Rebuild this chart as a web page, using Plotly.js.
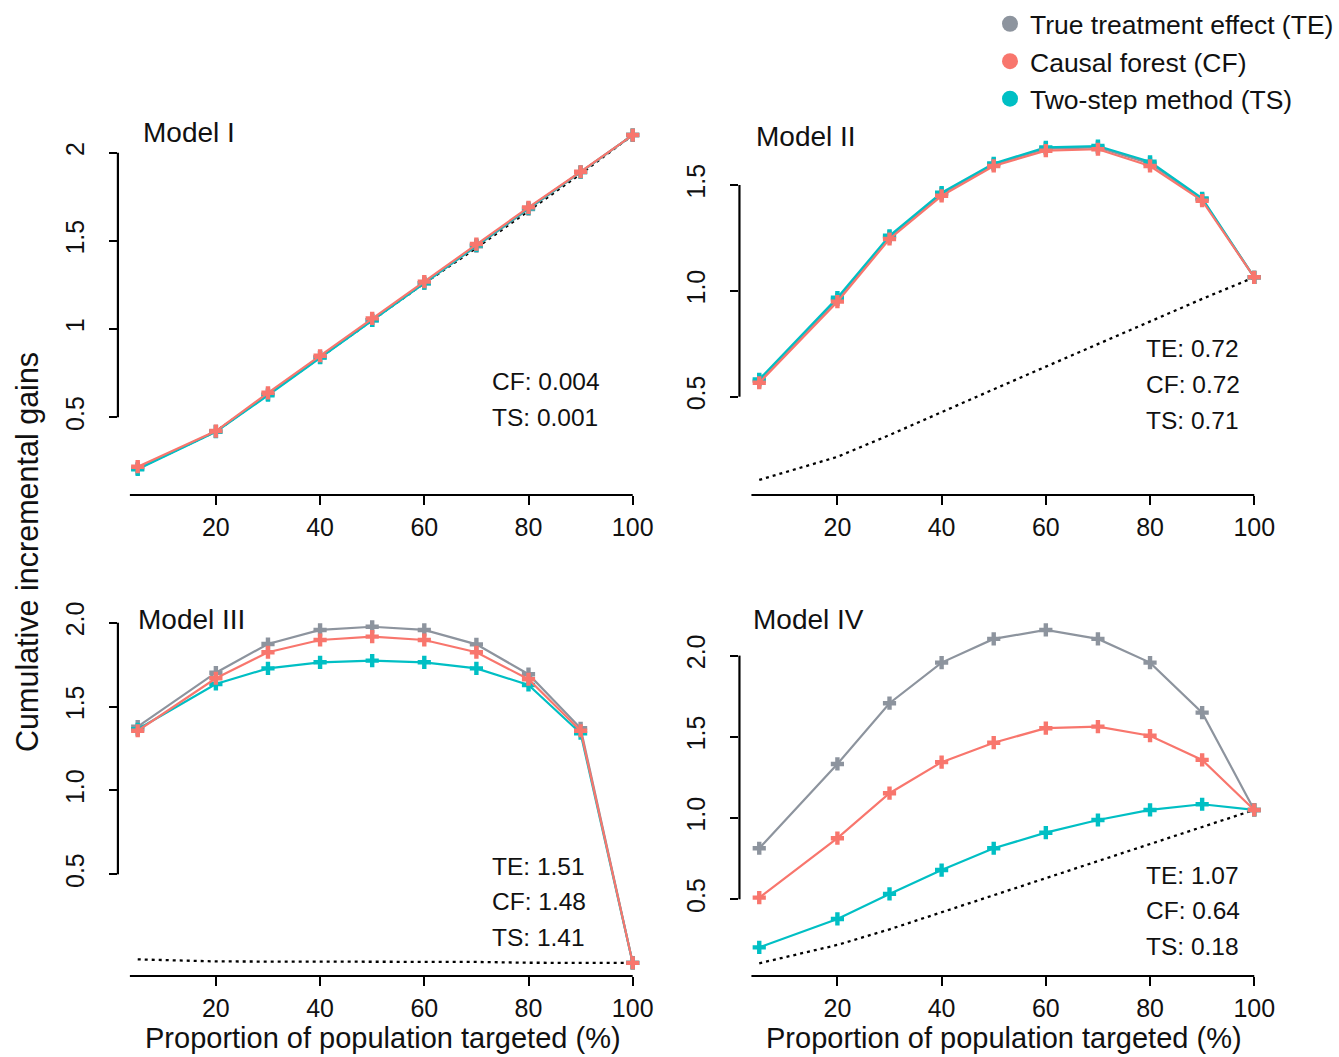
<!DOCTYPE html>
<html>
<head>
<meta charset="utf-8">
<script src="https://cdn.plot.ly/plotly-3.0.1.min.js"></script>
<style>html,body{margin:0;padding:0;background:#fff;}#chart{width:1339px;height:1057px;}</style>
</head>
<body>
<div id="chart"></div>
<script>
// ---------------- data ----------------
const pct = [5, 20, 30, 40, 50, 60, 70, 80, 90, 100];
const xTicks = [20, 40, 60, 80, 100];
const seriesNames = ['True treatment effect (TE)', 'Causal forest (CF)', 'Two-step method (TS)'];
const panelTitles = ['Model I', 'Model II', 'Model III', 'Model IV'];

const m1_te = [0.21, 0.42, 0.63, 0.84, 1.05, 1.26, 1.47, 1.68, 1.89, 2.10];
const m1_cf = [0.22, 0.422, 0.639, 0.849, 1.061, 1.269, 1.482, 1.69, 1.892, 2.10];
const m1_ts = [0.205, 0.418, 0.625, 0.838, 1.05, 1.26, 1.475, 1.685, 1.89, 2.10];
const m1_base = [0.21, 0.42, 0.63, 0.84, 1.05, 1.26, 1.46, 1.67, 1.88, 2.10];

const m2_te = [0.575, 0.96, 1.255, 1.458, 1.597, 1.672, 1.678, 1.602, 1.432, 1.064];
const m2_cf = [0.566, 0.949, 1.245, 1.449, 1.590, 1.662, 1.669, 1.590, 1.426, 1.064];
const m2_ts = [0.582, 0.968, 1.26, 1.464, 1.602, 1.678, 1.684, 1.61, 1.437, 1.064];
const m2_base = [0.107, 0.216, 0.319, 0.428, 0.535, 0.642, 0.749, 0.856, 0.962, 1.064];

const m3_te = [1.38, 1.702, 1.873, 1.957, 1.976, 1.957, 1.871, 1.693, 1.371, -0.028];
const m3_cf = [1.356, 1.669, 1.824, 1.897, 1.917, 1.897, 1.824, 1.663, 1.356, -0.028];
const m3_ts = [1.365, 1.635, 1.728, 1.764, 1.774, 1.764, 1.728, 1.629, 1.341, -0.028];
const m3_base = [-0.007, -0.019, -0.02, -0.02, -0.02, -0.021, -0.022, -0.027, -0.028, -0.028];

const m4_te = [0.814, 1.333, 1.707, 1.957, 2.103, 2.158, 2.103, 1.957, 1.649, 1.05];
const m4_cf = [0.51, 0.876, 1.153, 1.344, 1.464, 1.553, 1.563, 1.507, 1.358, 1.05];
const m4_ts = [0.204, 0.379, 0.533, 0.68, 0.814, 0.91, 0.988, 1.05, 1.085, 1.05];
const m4_base = [0.106, 0.219, 0.315, 0.42, 0.525, 0.632, 0.735, 0.84, 0.945, 1.05];

const statLines = [
  ['CF: 0.004', 'TS: 0.001'],
  ['TE: 0.72', 'CF: 0.72', 'TS: 0.71'],
  ['TE: 1.51', 'CF: 1.48', 'TS: 1.41'],
  ['TE: 1.07', 'CF: 0.64', 'TS: 0.18']
];
const yTickVals = [[0.5, 1, 1.5, 2], [0.5, 1.0, 1.5], [0.5, 1.0, 1.5, 2.0], [0.5, 1.0, 1.5, 2.0]];
const yTickText = [['0.5', '1', '1.5', '2'], ['0.5', '1.0', '1.5'], ['0.5', '1.0', '1.5', '2.0'], ['0.5', '1.0', '1.5', '2.0']];
const xTitle = 'Proportion of population targeted (%)';
const yTitle = 'Cumulative incremental gains';

// ---------------- styling / layout ----------------
const W = 1339, H = 1057;
const FONT = 'Liberation Sans, Arial, Helvetica, sans-serif';
const COLORS = ['#8D949E', '#F8766D', '#00BFC4'];
const px = v => v / W;
const py = v => 1 - v / H;

const panels = [
  {te: m1_te, cf: m1_cf, ts: m1_ts, base: m1_base, xd: [118, 653], yd: [134, 495], yr: [0.0595, 2.106], title: [141, 133], stats: [490, 382]},
  {te: m2_te, cf: m2_cf, ts: m2_ts, base: m2_base, xd: [740, 1275], yd: [134, 495], yr: [0.0357, 1.741], title: [755, 137], stats: [1145, 349]},
  {te: m3_te, cf: m3_cf, ts: m3_ts, base: m3_base, xd: [118, 653], yd: [615, 976], yr: [-0.106, 2.046], title: [136, 619], stats: [490, 866]},
  {te: m4_te, cf: m4_cf, ts: m4_ts, base: m4_base, xd: [740, 1275], yd: [615, 976], yr: [0.0277, 2.25], title: [752, 619], stats: [1145, 875]}
];

const traces = [];
const layout = {
  width: W, height: H,
  margin: {l: 0, r: 0, t: 0, b: 0},
  paper_bgcolor: '#fff', plot_bgcolor: 'rgba(0,0,0,0)',
  font: {family: FONT, color: '#000', size: 25},
  showlegend: true,
  legend: {x: px(991), y: py(0), xanchor: 'left', yanchor: 'top', font: {size: 26.5, family: FONT, color: '#111'},
           bgcolor: 'rgba(0,0,0,0)', tracegroupgap: 0, itemwidth: 30},
  annotations: [], shapes: []
};

panels.forEach((p, i) => {
  const n = i + 1;
  const xa = 'x' + (n === 1 ? '' : n), ya = 'y' + (n === 1 ? '' : n);
  const xk = 'xaxis' + (n === 1 ? '' : n), yk = 'yaxis' + (n === 1 ? '' : n);
  traces.push({x: pct, y: p.base, xaxis: xa, yaxis: ya, mode: 'lines', showlegend: false, hoverinfo: 'skip',
               line: {color: '#000', width: 2.3, dash: '3px,4px'}});
  [[p.te, 0], [p.ts, 2], [p.cf, 1]].forEach(([vals, c]) => {
    traces.push({x: pct, y: vals, xaxis: xa, yaxis: ya, mode: 'lines+markers', showlegend: false, cliponaxis: false,
                 line: {color: COLORS[c], width: 2.2}, marker: {color: COLORS[c], symbol: 'cross', size: 11, line: {width: 0}}});
  });
  layout[xk] = {domain: [px(p.xd[0]), px(p.xd[1])], range: [1.2, 103.8], anchor: ya,
    showgrid: false, zeroline: false, showline: false, ticks: 'outside', ticklen: 9, tickwidth: 2, tickcolor: '#000',
    tickvals: xTicks, ticktext: xTicks.map(String), tickfont: {size: 25, family: FONT, color: '#111'}, ticklabelstandoff: 1};
  layout[yk] = {domain: [py(p.yd[1]), py(p.yd[0])], range: p.yr, anchor: xa,
    showgrid: false, zeroline: false, showline: false, ticks: 'outside', ticklen: 8, tickwidth: 2, tickcolor: '#000',
    tickvals: yTickVals[i], ticktext: yTickText[i], tickangle: -90, tickfont: {size: 25, family: FONT, color: '#111'}, ticklabelstandoff: 15};
  // R-style axis lines spanning first to last tick
  layout.shapes.push({type: 'line', xref: xa, yref: ya + ' domain', x0: 3.5, x1: xTicks[xTicks.length - 1], y0: 0, y1: 0,
                      line: {color: '#000', width: 2.2}});
  const yt = yTickVals[i];
  layout.shapes.push({type: 'line', xref: xa + ' domain', yref: ya, x0: 0, x1: 0, y0: yt[0], y1: yt[yt.length - 1],
                      line: {color: '#000', width: 2.2}});
  layout.annotations.push({text: panelTitles[i], xref: 'paper', yref: 'paper', x: px(p.title[0]), y: py(p.title[1]),
    xanchor: 'left', yanchor: 'middle', showarrow: false, font: {size: 28, family: FONT, color: '#111'}});
  statLines[i].forEach((t, k) => {
    layout.annotations.push({text: t, xref: 'paper', yref: 'paper', x: px(p.stats[0]), y: py(p.stats[1] + k * 35.5),
      xanchor: 'left', yanchor: 'middle', showarrow: false, font: {size: 24.5, family: FONT, color: '#111'}});
  });
});

// axis titles
layout.annotations.push({text: xTitle, xref: 'paper', yref: 'paper', x: px(383), y: py(1038), xanchor: 'center', yanchor: 'middle',
  showarrow: false, font: {size: 29, family: FONT, color: '#111'}});
layout.annotations.push({text: xTitle, xref: 'paper', yref: 'paper', x: px(1005), y: py(1038), xanchor: 'center', yanchor: 'middle',
  showarrow: false, font: {size: 29, family: FONT, color: '#111'}});
layout.annotations.push({text: yTitle, xref: 'paper', yref: 'paper', x: px(27), y: py(552), xanchor: 'center', yanchor: 'middle',
  textangle: -90, showarrow: false, font: {size: 30.5, family: FONT, color: '#111'}});

// legend entries (dots)
seriesNames.forEach((nm, c) => {
  traces.push({x: [null], y: [null], xaxis: 'x', yaxis: 'y', mode: 'markers', name: nm, showlegend: true,
               marker: {color: COLORS[c], symbol: 'circle', size: 16}});
});

Plotly.newPlot('chart', traces, layout, {displayModeBar: false, staticPlot: true});
</script>
</body>
</html>
